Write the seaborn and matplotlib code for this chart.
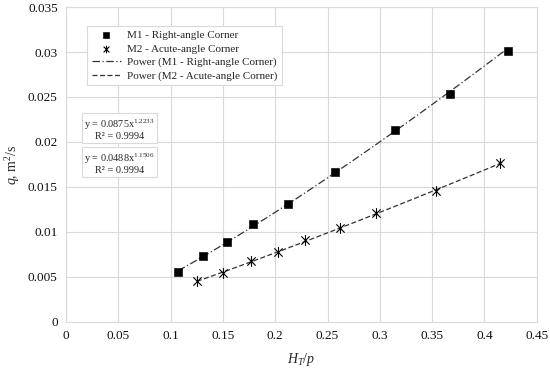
import numpy as np
import pandas as pd
import matplotlib
matplotlib.use("Agg")
import matplotlib.pyplot as plt
from matplotlib.path import Path
import seaborn as sns

# dados
x_m1 = [0.1073, 0.1306, 0.1538, 0.1789, 0.2123, 0.2569, 0.3149, 0.3668, 0.4225]
q_m1 = [0.00555, 0.0073, 0.00886, 0.01085, 0.0131, 0.0167, 0.02138, 0.02535, 0.0301]
x_m2 = [0.1251, 0.1502, 0.1767, 0.2028, 0.2289, 0.2617, 0.2967, 0.3537, 0.4152]
q_m2 = [0.00452, 0.00548, 0.00673, 0.00776, 0.00905, 0.0104, 0.0121, 0.01457, 0.01763]

nomes = ["M1 - Right-angle Corner", "M2 - Acute-angle Corner"]
eq_textos = ["y = 0.0875x$^{1.2233}$\nR² = 0.9994", "y = 0.0488x$^{1.1506}$\nR² = 0.9994"]

sns.set_style("white")
plt.rcParams["font.family"] = ["Liberation Serif", "DejaVu Serif"]
plt.rcParams["mathtext.fontset"] = "custom"
plt.rcParams["mathtext.rm"] = "Liberation Serif"
plt.rcParams["mathtext.it"] = "Liberation Serif:italic"

cinza = "#d9d9d9"

# marcador "estrela" do Excel: x com barra vertical
estrela = Path([(-1, -1), (1, 1), (-1, 1), (1, -1), (0, -1.3), (0, 1.3)],
               [Path.MOVETO, Path.LINETO, Path.MOVETO, Path.LINETO, Path.MOVETO, Path.LINETO])

fig = plt.figure(figsize=(5.5, 3.7), dpi=100)
ax = fig.add_axes([0.12, 0.13, 0.856, 0.851])

df1 = pd.DataFrame({"x": x_m1, "q": q_m1})
df2 = pd.DataFrame({"x": x_m2, "q": q_m2})

# ajuste de potência (linha de tendência) a partir dos dados
def ajuste(df):
    b, lna = np.polyfit(np.log(df["x"]), np.log(df["q"]), 1)
    xs = np.linspace(df["x"].min(), df["x"].max(), 60)
    return pd.DataFrame({"x": xs, "q": np.exp(lna) * xs ** b})

fit1 = ajuste(df1)
fit2 = ajuste(df2)

sns.lineplot(data=fit1, x="x", y="q", ax=ax, color="#333333", lw=0.9,
             linestyle=(0, (6, 2, 1, 2)), label="Power (M1 - Right-angle Corner)", zorder=2)
sns.lineplot(data=fit2, x="x", y="q", ax=ax, color="#333333", lw=0.9,
             linestyle=(0, (4, 2)), label="Power (M2 - Acute-angle Corner)", zorder=2)
sns.scatterplot(data=df1, x="x", y="q", ax=ax, marker="s", color="black", s=30,
                edgecolor="black", label=nomes[0], zorder=3)
ax.scatter(df2["x"], df2["q"], marker=estrela, s=60, color="black", linewidths=0.8,
           label=nomes[1], zorder=3)

h, l = ax.get_legend_handles_labels()
ordem = [l.index(nomes[0]), l.index(nomes[1]), 0, 1]
leg = ax.legend([h[i] for i in ordem], [l[i] for i in ordem], loc="upper left",
                bbox_to_anchor=(0.045, 0.94), fontsize=8, frameon=True, fancybox=False,
                edgecolor=cinza, framealpha=1, handlelength=2.6, borderpad=0.4,
                labelspacing=0.33, handletextpad=0.6, borderaxespad=0, markerscale=0.7)
leg.get_frame().set_linewidth(0.8)

for yy, txt in zip([0.613, 0.505], eq_textos):
    ax.text(0.113, yy, txt, transform=ax.transAxes, fontsize=7.4, ha="center", va="center",
            linespacing=1.0,
            bbox=dict(boxstyle="square,pad=0.22", fc="white", ec=cinza, lw=0.8))

ax.set_xlim(0, 0.45)
ax.set_ylim(0, 0.035)
ax.set_xticks(np.arange(0, 0.451, 0.05))
ax.set_yticks(np.arange(0, 0.0351, 0.005))
ax.set_xticklabels(["0", "0.05", "0.1", "0.15", "0.2", "0.25", "0.3", "0.35", "0.4", "0.45"])
ax.set_yticklabels(["0", "0.005", "0.01", "0.015", "0.02", "0.025", "0.03", "0.035"])
ax.grid(True, color=cinza, lw=0.8)
ax.set_axisbelow(True)
for s in ax.spines.values():
    s.set_color(cinza)
    s.set_linewidth(0.8)
ax.tick_params(length=0, labelsize=9.5, pad=6, colors="#111111")
ax.set_xlabel(r"$H_T/p$", fontsize=10, labelpad=6)
ax.set_ylabel(r"$q$, m$^2$/s", fontsize=10, labelpad=4)

fig.savefig("out.png", dpi=100)
